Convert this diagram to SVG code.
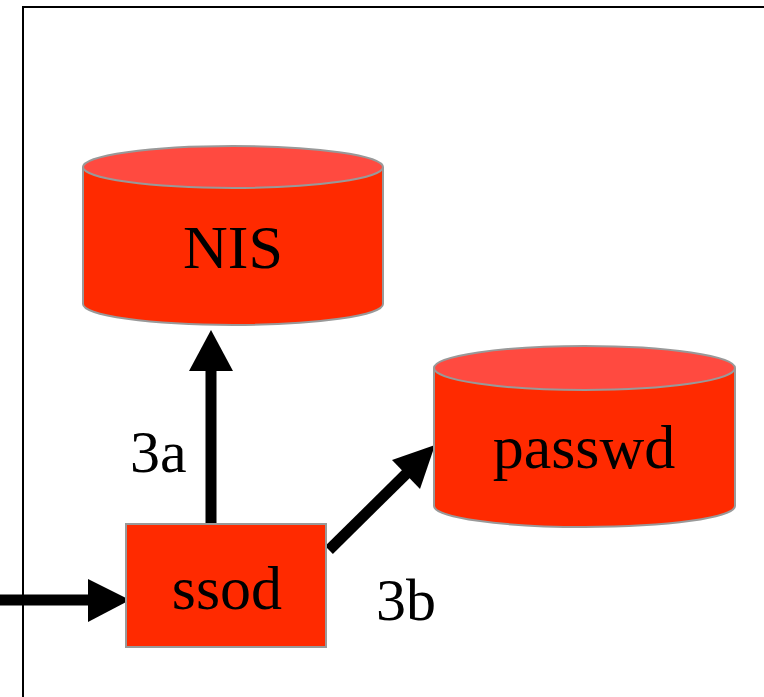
<svg xmlns="http://www.w3.org/2000/svg" width="764" height="697" viewBox="0 0 764 697">
<style>
.body{fill:#ff2a00;stroke:#999;stroke-width:2}
.top{fill:#ff4a40;stroke:#999;stroke-width:2}
.lbl{font-family:"Liberation Serif","Times New Roman",serif;font-size:62px;fill:#000;text-anchor:middle}
.edge{font-family:"Liberation Serif","Times New Roman",serif;font-size:60px;fill:#000}
.conn{stroke:#000;stroke-width:11;fill:none}
</style>
<rect x="23" y="7" width="760" height="700" fill="none" stroke="#000" stroke-width="2"/>
<g id="connectors">
<line class="conn" x1="0" y1="600" x2="92" y2="600"/>
<path d="M88,579 L130,600 L88,622 Z" fill="#000"/>
<line class="conn" x1="211" y1="524" x2="211" y2="366"/>
<path d="M189,371 L211,330 L233,371 Z" fill="#000"/>
<line class="conn" x1="329" y1="550" x2="408" y2="472"/>
<path d="M392,460 L435,445 L420,489 Z" fill="#000"/>
</g>
<g id="NIS">
<path class="body" d="M83,167 L83,304 A150,21 0 0 0 383,304 L383,167"/>
<ellipse class="top" cx="233" cy="167" rx="150" ry="21"/>
<text class="lbl" x="233" y="268">NIS</text>
</g>
<g id="passwd">
<path class="body" d="M434,368 L434,506 A150.5,21 0 0 0 735,506 L735,368"/>
<ellipse class="top" cx="584.5" cy="368" rx="150.5" ry="22"/>
<text class="lbl" x="584" y="468">passwd</text>
</g>
<g id="ssod">
<rect class="body" x="126" y="524" width="200" height="123"/>
<text class="lbl" x="227" y="609">ssod</text>
</g>
<g id="labels">
<text class="edge" x="130" y="472">3a</text>
<text class="edge" x="376" y="620">3b</text>
</g>
</svg>
